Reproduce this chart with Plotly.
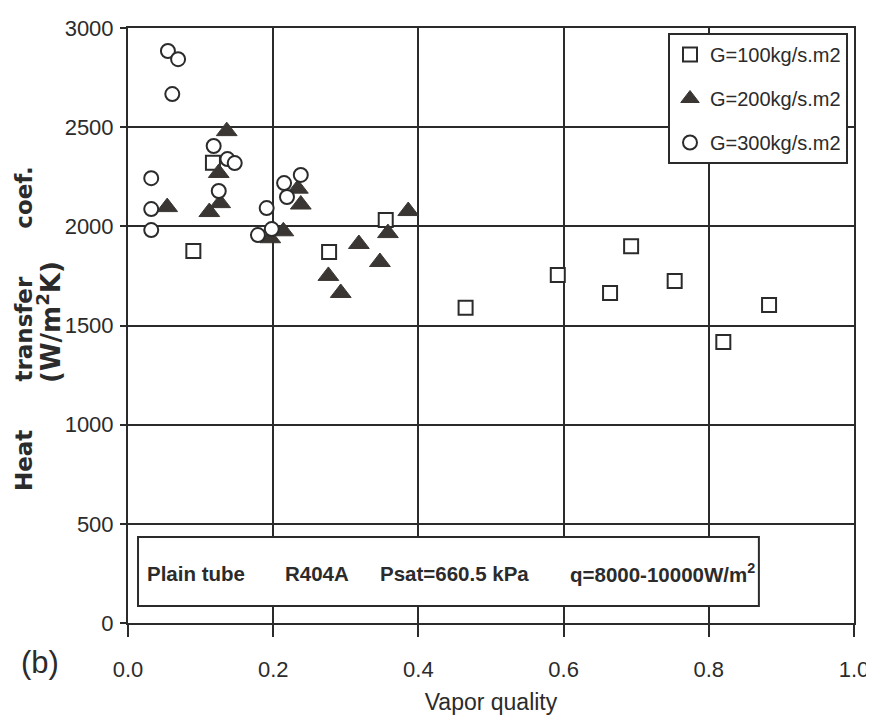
import plotly.graph_objects as go

# ---- data ----
x_g100 = [0.090, 0.117, 0.277, 0.355, 0.465, 0.592, 0.664, 0.693, 0.753, 0.820, 0.883]
y_g100 = [1876, 2320, 1870, 2032, 1590, 1755, 1664, 1900, 1724, 1417, 1603]

x_g200 = [0.054, 0.112, 0.125, 0.127, 0.136, 0.196, 0.214, 0.234, 0.238, 0.276, 0.293, 0.318, 0.347, 0.358, 0.386]
y_g200 = [2097, 2072, 2269, 2117, 2480, 1940, 1975, 2190, 2110, 1750, 1664, 1911, 1820, 1966, 2077]

x_g300 = [0.032, 0.032, 0.032, 0.055, 0.069, 0.061, 0.118, 0.137, 0.147, 0.125, 0.179, 0.191, 0.198, 0.215, 0.219, 0.238]
y_g300 = [2243, 2087, 1981, 2884, 2843, 2667, 2405, 2339, 2319, 2178, 1956, 2092, 1986, 2218, 2148, 2259]

x_ticks = [0.0, 0.2, 0.4, 0.6, 0.8, 1.0]
x_ticklabels = ["0.0", "0.2", "0.4", "0.6", "0.8", "1.0"]
y_ticks = [0, 500, 1000, 1500, 2000, 2500, 3000]
y_ticklabels = ["0", "500", "1000", "1500", "2000", "2500", "3000"]

series_names = ["G=100kg/s.m2", "G=200kg/s.m2", "G=300kg/s.m2"]

INK = "#2b2b2b"
TRI = "#3a3633"
SANS = "Liberation Sans, Arial, sans-serif"
WIDE = "DejaVu Sans, Verdana, sans-serif"

fig = go.Figure()

fig.add_trace(go.Scatter(
    x=x_g100, y=y_g100, mode="markers", name=series_names[0], legendgroup="a",
    marker=dict(symbol="square", size=14, color="white", line=dict(color=INK, width=2)),
))
fig.add_trace(go.Scatter(
    x=x_g200, y=y_g200, mode="markers", name=series_names[1], legendgroup="b",
    marker=dict(symbol="triangle-up", size=18, color=TRI, line=dict(color=TRI, width=1)),
))
fig.add_trace(go.Scatter(
    x=x_g300, y=y_g300, mode="markers", name=series_names[2], legendgroup="c",
    marker=dict(symbol="circle", size=14, color="white", line=dict(color=INK, width=2)),
))

# page has an 8px body margin; figure sized so it fits the 874x723 window
OFF = 8
W, H = 874 - OFF, 723 - 2 * OFF
L, T = 128 - OFF, 28 - OFF
R = W - (854 - OFF)
B = H - (623 - OFF)
pw = W - L - R
ph = H - T - B

def px_x(p):  # page pixel -> paper coordinate
    return (p - OFF - L) / pw

def px_y(p):
    return (H - B - (p - OFF)) / ph

fig.update_layout(
    width=W, height=H,
    margin=dict(l=L, r=R, t=T, b=B, autoexpand=False),
    paper_bgcolor="white", plot_bgcolor="white",
    font=dict(family=SANS, color=INK, size=22),
    showlegend=True,
    legend=dict(
        x=px_x(848), y=px_y(33), xanchor="right", yanchor="top",
        bordercolor=INK, borderwidth=2, bgcolor="white",
        font=dict(family=SANS, size=20, color=INK),
        tracegroupgap=15, itemwidth=30,
    ),
    xaxis=dict(
        range=[0, 1], tickmode="array", tickvals=x_ticks, ticktext=x_ticklabels,
        tickfont=dict(family=SANS, size=22, color=INK),
        showgrid=True, gridcolor=INK, gridwidth=2,
        showline=True, linecolor=INK, linewidth=2, mirror=True,
        ticks="outside", ticklen=12, tickwidth=2, tickcolor=INK,
        ticklabelstandoff=14, automargin=False,
        zeroline=False,
        title=dict(text="Vapor quality", font=dict(family=SANS, size=23, color=INK), standoff=13),
    ),
    yaxis=dict(
        range=[0, 3000], tickmode="array", tickvals=y_ticks, ticktext=y_ticklabels,
        tickfont=dict(family=SANS, size=22, color=INK),
        showgrid=True, gridcolor=INK, gridwidth=2,
        showline=True, linecolor=INK, linewidth=2, mirror=True,
        ticks="outside", ticklen=6, tickwidth=2, tickcolor=INK,
        ticklabelstandoff=2, automargin=False,
        zeroline=False,
    ),
)

# inner condition box
fig.add_shape(type="rect", xref="x", yref="y", x0=0.0138, x1=0.869, y0=86, y1=434,
              fillcolor="white", line=dict(color=INK, width=2), layer="above")

box_font = dict(family=SANS, size=20.5, color=INK, weight="bold")
for txt, xp in [("Plain tube", 145), ("R404A", 283), ("Psat=660.5 kPa", 378),
                ("q=8000-10000W/m<sup>2</sup>", 568)]:
    fig.add_annotation(text=txt, xref="paper", yref="paper", x=px_x(xp), y=px_y(573),
                       xanchor="left", yanchor="middle", showarrow=False, font=box_font)

# y-axis title (two lines)
fig.add_annotation(text="Heat      transfer      coef.", xref="paper", yref="paper",
                   x=px_x(24), y=px_y(329), textangle=-90, showarrow=False,
                   xanchor="center", yanchor="middle",
                   font=dict(family=WIDE, size=23, color=INK, weight="bold"))
fig.add_annotation(text="(W/m<sup>2</sup>K)", xref="paper", yref="paper",
                   x=px_x(49), y=px_y(322), textangle=-90, showarrow=False,
                   xanchor="center", yanchor="middle",
                   font=dict(family=WIDE, size=26, color=INK, weight="bold"))

# panel label
fig.add_annotation(text="(b)", xref="paper", yref="paper", x=px_x(40), y=px_y(662),
                   showarrow=False, xanchor="center", yanchor="middle",
                   font=dict(family=SANS, size=31, color=INK))

fig.write_html("out.html")
